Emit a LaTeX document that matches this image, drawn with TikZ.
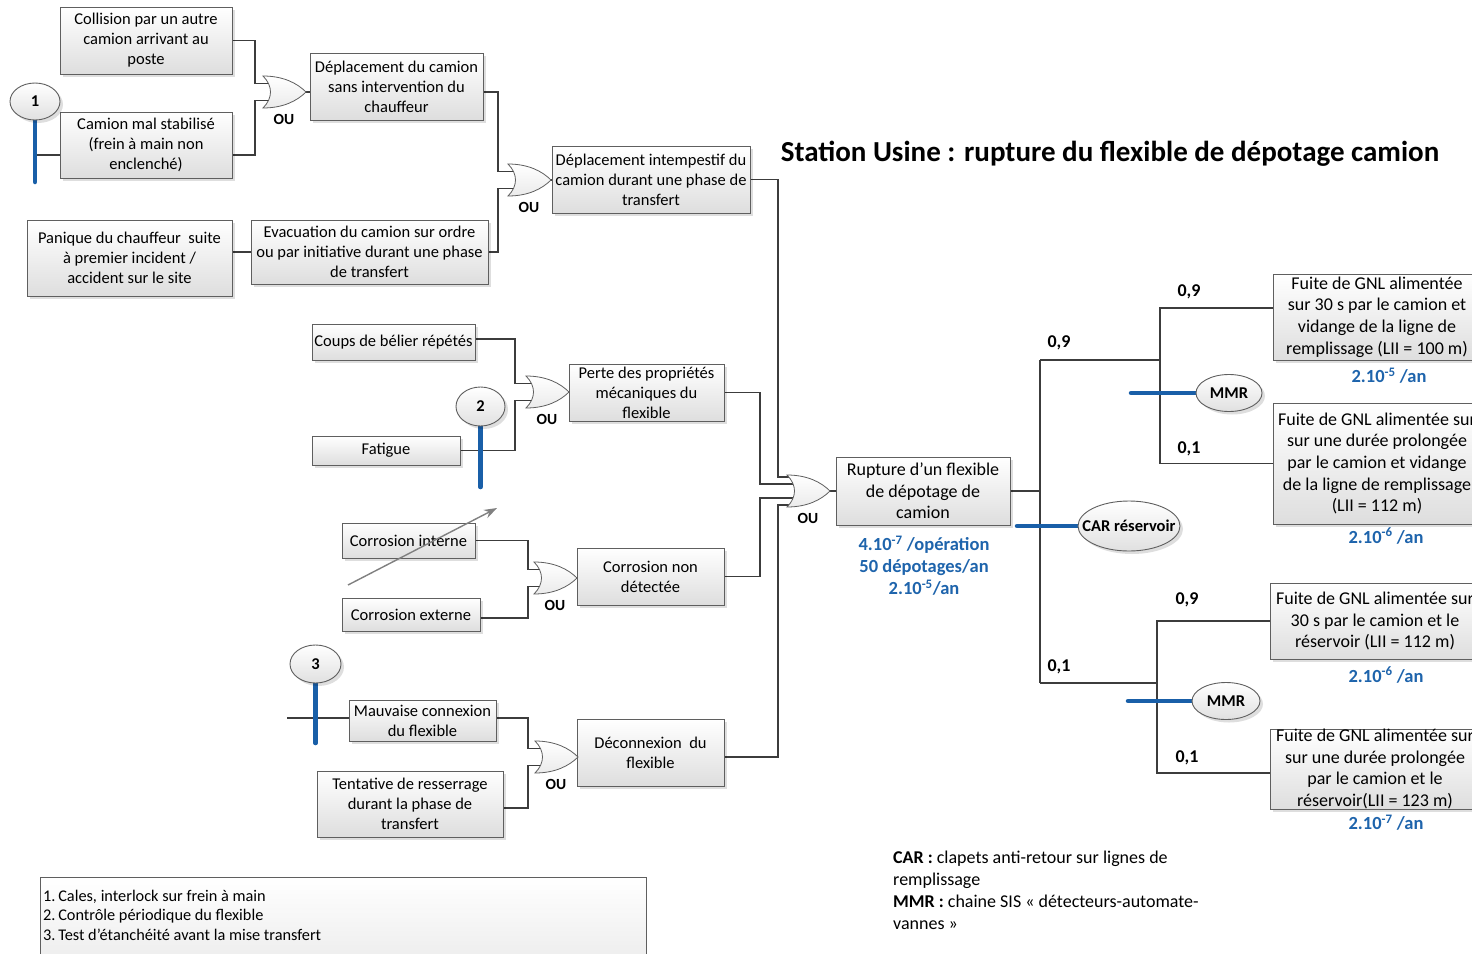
\documentclass[tikz,border=0pt]{standalone}
\usepackage{fontspec}
\setmainfont{Carlito}
\usetikzlibrary{shadows,arrows.meta,calc,shapes.geometric}
\definecolor{lnc}{RGB}{60,60,60}
\definecolor{bdc}{RGB}{95,95,95}
\definecolor{blu}{RGB}{25,95,168}
\definecolor{blt}{RGB}{30,100,172}
\pgfdeclarelayer{back}
\pgfdeclarelayer{bg}
\pgfsetlayers{back,bg,main}
\tikzset{
  box/.style={draw=bdc, line width=0.9pt, top color=white, bottom color=black!13,
    drop shadow={shadow xshift=3pt, shadow yshift=-3pt, fill=black, opacity=0.13},
    align=center, inner sep=0pt, font=\fontsize{16.5}{20}\selectfont},
  bbox/.style={box, font=\fontsize{18}{21.7}\selectfont},
  marker/.style={ellipse, draw=bdc, line width=0.9pt, top color=white, bottom color=black!12,
    drop shadow={shadow xshift=3pt, shadow yshift=-3pt, fill=black, opacity=0.13}, inner sep=0pt},
  mtext/.style={font=\bfseries\fontsize{16.5}{19}\selectfont, inner sep=0pt},
  conn/.style={draw=lnc, line width=1.1pt},
  bluel/.style={draw=blu, line width=4.5pt, line cap=round},
  prob/.style={font=\bfseries\fontsize{18}{21}\selectfont, inner sep=0pt},
  bluetxt/.style={font=\bfseries\fontsize{18.5}{22}\selectfont, text=blt, align=center, inner sep=0pt},
  pics/orgate/.style={code={
    \path[draw=bdc, line width=0.8pt, top color=white, bottom color=black!8]
      (0,-16) .. controls (10,-6) and (10,6) .. (0,16)
      .. controls (20,16) and (34,9) .. (43,0)
      .. controls (34,-9) and (20,-16) .. (0,-16) -- cycle;
    \coordinate (-in1) at (9,-8.5);
    \coordinate (-in2) at (9,8.5);
    \coordinate (-i1) at (8,-14);
    \coordinate (-i2) at (8,-7);
    \coordinate (-i3) at (8,7);
    \coordinate (-i4) at (8,14);
    \coordinate (-out) at (43,0);
    \node[font=\bfseries\fontsize{15.5}{18}\selectfont, inner sep=0pt] (-ou) at (21,27) {OU};
  }}
}
\begin{document}
\begin{tikzpicture}[x=1pt,y=-1pt]
\useasboundingbox (0,0) rectangle (1472,953);
\begin{pgfonlayer}{back}
\fill[white] (0,0) rectangle (1472,953);
\end{pgfonlayer}
\clip (0,0) rectangle (1472,953);

% ---------- left boxes ----------
\node[box, minimum width=172, minimum height=67] (coll) at (146,40.5) {Collision par un autre\\camion arrivant au\\poste};
\node[box, minimum width=172, minimum height=66] (cam) at (146,145) {Camion mal stabilisé\\(frein à main non\\enclenché)};
\node[box, minimum width=173, minimum height=67] (dep1) at (396.5,86.5) {Déplacement du camion\\sans intervention du\\chauffeur};
\node[box, minimum width=198, minimum height=67] (dint) at (651,179.5) {Déplacement intempestif du\\camion durant une phase de\\transfert};
\node[box, minimum width=205, minimum height=76] (pan) at (129.5,258) {Panique du chauffeur \ suite\\à premier incident /\\accident sur le site};
\node[box, minimum width=237, minimum height=64] (eva) at (369.5,252) {Evacuation du camion sur ordre\\ou par initiative durant une phase\\de transfert};
\node[box, minimum width=163, minimum height=36] (coups) at (393.5,342) {Coups de bélier répétés};
\node[box, minimum width=148, minimum height=29] (fat) at (386,450.5) {Fatigue};
\node[box, minimum width=155, minimum height=57] (perte) at (646.5,392.5) {Perte des propriétés\\mécaniques du\\flexible};
\node[box, minimum width=133, minimum height=35] (cint) at (408.5,540.5) {Corrosion interne};
\node[box, minimum width=138, minimum height=33] (cext) at (411,614.5) {Corrosion externe};
\node[box, minimum width=147, minimum height=57] (cnd) at (650.5,576.5) {Corrosion non\\détectée};
\node[box, minimum width=147, minimum height=41] (mauv) at (422.5,720.5) {Mauvaise connexion\\du flexible};
\node[box, minimum width=186, minimum height=66] (tent) at (410,804) {Tentative de resserrage\\durant la phase de\\transfert};
\node[box, minimum width=147, minimum height=67] (decon) at (650.5,752.5) {Déconnexion \ du\\flexible};
\node[bbox, minimum width=174, minimum height=68] (rup) at (923,491) {Rupture d’un flexible\\de dépotage de\\camion};

% ---------- right boxes ----------
\node[bbox, minimum width=208, minimum height=86] (f1) at (1377,317) {Fuite de GNL alimentée\\sur 30 s par le camion et\\vidange de la ligne de\\remplissage (LII = 100 m)};
\node[bbox, minimum width=208, minimum height=121] (f2) at (1377,463.5) {Fuite de GNL alimentée sur\\sur une durée prolongée\\par le camion et vidange\\de la ligne de remplissage\\(LII = 112 m)};
\node[bbox, minimum width=210, minimum height=76] (f3) at (1375,621) {Fuite de GNL alimentée sur\\30 s par le camion et le\\réservoir (LII = 112 m)};
\node[bbox, minimum width=210, minimum height=78] (f4) at (1375,769) {Fuite de GNL alimentée sur\\sur une durée prolongée\\par le camion et le\\réservoir(LII = 123 m)};

% ---------- gates ----------
\pic (g1) at (263,92) {orgate};
\pic (g2) at (508,180) {orgate};
\pic (g3) at (787,491) {orgate};
\pic (g4) at (526,392) {orgate};
\pic (g5) at (534,578) {orgate};
\pic (g6) at (535,757) {orgate};

% ---------- markers ----------
\node[marker, minimum width=50, minimum height=37] (m1) at (35,101.5) {};
\node[mtext] (m1t) at (m1) {1};
\node[marker, minimum width=49, minimum height=39] (m2) at (480.5,406.5) {};
\node[mtext] (m2t) at (m2) {2};
\node[marker, minimum width=51, minimum height=38] (m3) at (315.5,664) {};
\node[mtext] (m3t) at (m3) {3};
\node[marker, minimum width=102, minimum height=50] (car) at (1129,526) {};
\node[mtext] (cart) at (car) {CAR réservoir};
\node[marker, minimum width=66, minimum height=37] (mmr1) at (1229,393) {};
\node[mtext] (mmr1t) at (mmr1) {MMR};
\node[marker, minimum width=68, minimum height=37] (mmr2) at (1226,701) {};
\node[mtext] (mmr2t) at (mmr2) {MMR};

% ---------- coordinates ----------
\coordinate (m1x) at (35,155);
\coordinate (m1e) at (35,182);
\coordinate (m2e) at (480.5,487);
\coordinate (m3x) at (287,718);
\coordinate (m3e) at (315.5,743);
\coordinate (jA) at (1040,490);
\coordinate (jAt) at (1040,360);
\coordinate (jAb) at (1040,683);
\coordinate (jB) at (1160,360);
\coordinate (jC) at (1157,683);
\coordinate (carE) at (1017,526);
\coordinate (mmr1E) at (1131,393);
\coordinate (mmr2E) at (1128,701);
\coordinate (arS) at (348,585);
\coordinate (arE) at (497,508);

% ---------- connectors ----------
\begin{pgfonlayer}{bg}
\draw[conn] (coll.east) -| ([xshift=-17pt]g1-in1) -- (g1-in1);
\draw[conn] ([yshift=-10pt]cam.east) -| ([xshift=-17pt]g1-in2) -- (g1-in2);
\draw[conn] (g1-out) -- (dep1.west |- g1-out);
\draw[conn] (dep1.east |- g1-out) -| ([xshift=-19pt]g2-in1) -- (g2-in1);
\draw[conn] (pan.east |- eva.west) -- (eva.west);
\draw[conn] (eva.east) -| ([xshift=-19pt]g2-in2) -- (g2-in2);
\draw[conn] (g2-out) -- (dint.west |- g2-out);
\draw[conn] (dint.east) -| ([xshift=-17pt]g3-i1) -- (g3-i1);
\draw[conn] (perte.east) -| ([xshift=-35pt]g3-i2) -- (g3-i2);
\draw[conn] (cnd.east) -| ([xshift=-35pt]g3-i3) -- (g3-i3);
\draw[conn] ([yshift=-4.5pt]decon.east) -| ([xshift=-17pt]g3-i4) -- (g3-i4);
\draw[conn] (g3-out) -- (rup.west |- g3-out);
\draw[conn] ([yshift=3pt]coups.east) -| ([xshift=-20pt]g4-in1) -- (g4-in1);
\draw[conn] (fat.east) -| ([xshift=-20pt]g4-in2) -- (g4-in2);
\draw[conn] (g4-out) -- (perte.west |- g4-out);
\draw[conn] (cint.east) -| ([xshift=-15pt]g5-in1) -- (g5-in1);
\draw[conn] ([yshift=-3.5pt]cext.east) -| ([xshift=-15pt]g5-in2) -- (g5-in2);
\draw[conn] (g5-out) -- (cnd.west |- g5-out);
\draw[conn] ([yshift=2.5pt]mauv.east) -| ([xshift=-16pt]g6-in1) -- (g6-in1);
\draw[conn] ([yshift=-4pt]tent.east) -| ([xshift=-16pt]g6-in2) -- (g6-in2);
\draw[conn] (g6-out) -- (decon.west |- g6-out);
\draw[conn] (m1x) -- (cam.west |- m1x);
\draw[conn] (m3x) -- ([yshift=2.5pt]mauv.west);
% event tree
\draw[conn] (rup.east) -- (rup.east -| jA);
\draw[conn] (jAt) -- (jAb);
\draw[conn] (jAt) -- (jB);
\draw[conn] ([yshift=9pt]f1.west) -| (jB) |- (f2.west);
\draw[conn] (jAb) -- (jC);
\draw[conn] (f3.west) -| (jC) |- ([yshift=-4pt]f4.west);
% blue barriers
\draw[bluel] (m1.south) -- (m1e);
\draw[bluel] (m2.south) -- (m2e);
\draw[bluel] (m3.south) -- (m3e);
\draw[bluel] (carE) -- (car.west);
\draw[bluel] (mmr1E) -- (mmr1.west);
\draw[bluel] (mmr2E) -- (mmr2.west);
\end{pgfonlayer}

% grey arrow
\draw[draw=black!50, line width=1.4pt, -{Stealth[length=13pt,width=9pt]}] (arS) -- (arE);

% ---------- labels ----------
\node[prob] (p1) at (1059,343) {0,9};
\node[prob] (p2) at (1059,667) {0,1};
\node[prob] (p3) at (1189,292) {0,9};
\node[prob] (p4) at (1189,449) {0,1};
\node[prob] (p5) at (1187,600) {0,9};
\node[prob] (p6) at (1187,758) {0,1};

\node[bluetxt] (frq) at (924,566) {4.10\textsuperscript{-7} /opération\\50 dépotages/an\\2.10\textsuperscript{-5}/an};
\node[bluetxt] (q1) at (1389,376) {2.10\textsuperscript{-5} /an};
\node[bluetxt] (q2) at (1386,536) {2.10\textsuperscript{-6} /an};
\node[bluetxt] (q3) at (1386,675) {2.10\textsuperscript{-6} /an};
\node[bluetxt] (q4) at (1386,823) {2.10\textsuperscript{-7} /an};

\node[font=\bfseries\fontsize{29}{34}\selectfont, inner sep=0pt] (title) at (1110,154) {Station Usine : rupture du flexible de dépotage camion};

% ---------- legends ----------
\node[draw=bdc, line width=0.9pt, top color=white, bottom color=black!8, minimum width=606, minimum height=95, anchor=north west, inner sep=0pt] (leg) at (40,877) {};
\node[anchor=west, align=left, inner sep=0pt, font=\fontsize{16.3}{19.5}\selectfont] (legt) at (43,915) {1.\,Cales, interlock sur frein à main\\2.\,Contrôle périodique du flexible\\3.\,Test d’étanchéité avant la mise transfert};
\node[anchor=west, align=left, inner sep=0pt, font=\fontsize{18}{22}\selectfont] (abbr) at (893,890) {\textbf{CAR :} clapets anti-retour sur lignes de\\remplissage\\\textbf{MMR :} chaine SIS « détecteurs-automate-\\vannes »};
\end{tikzpicture}
\end{document}
